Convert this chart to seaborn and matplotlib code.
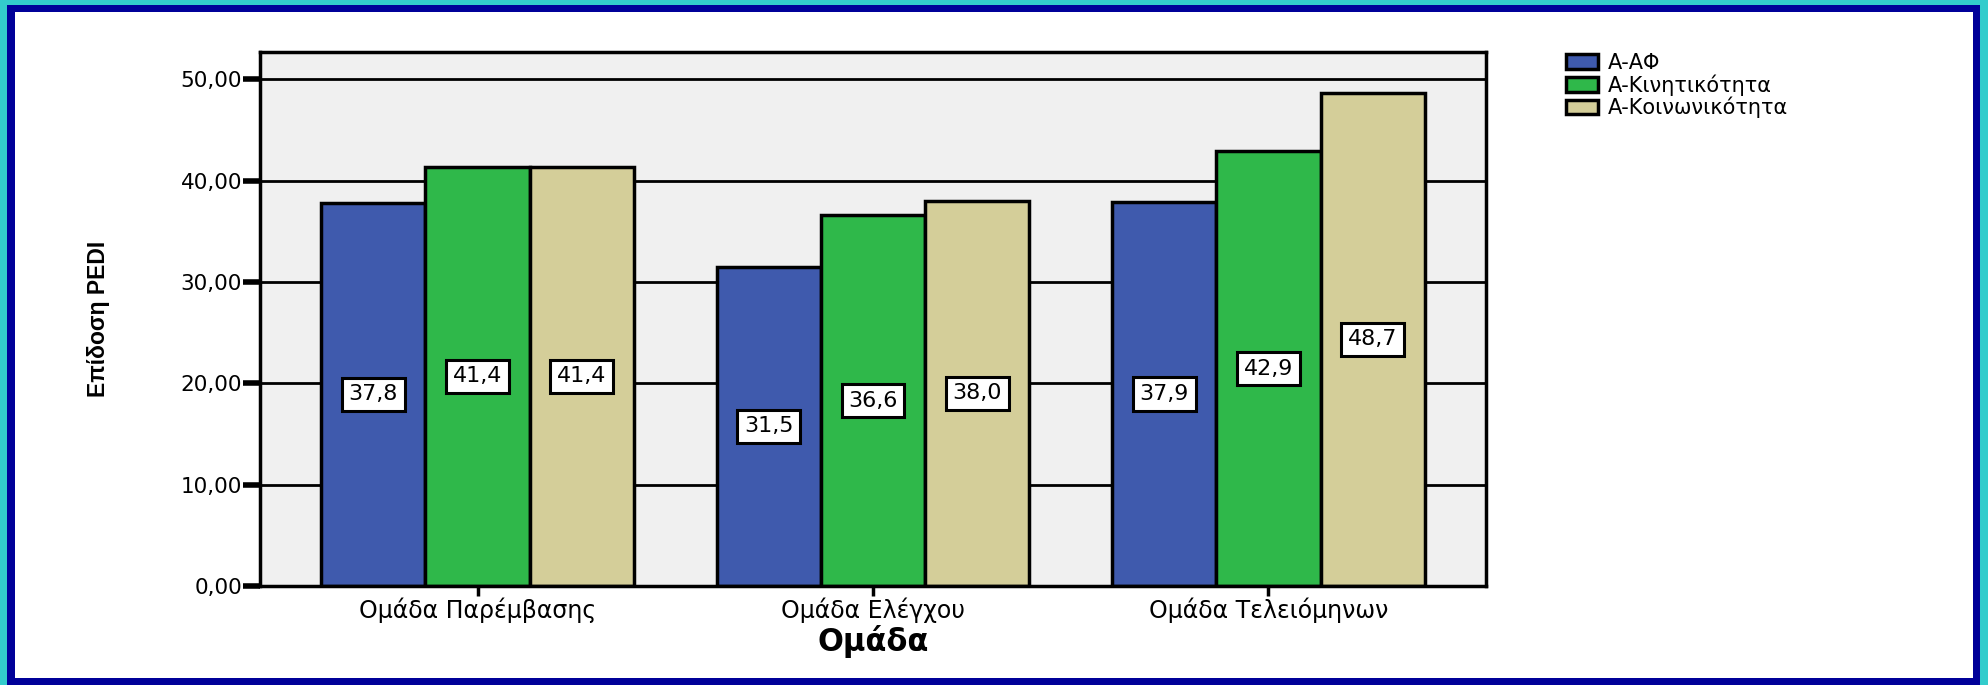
import matplotlib
matplotlib.use("Agg")
import matplotlib.pyplot as plt
from matplotlib.patches import Rectangle
from matplotlib.ticker import FuncFormatter
import pandas as pd
import seaborn as sns

# Δεδομένα του γραφήματος
groups = ["Ομάδα Παρέμβασης", "Ομάδα Ελέγχου", "Ομάδα Τελειόμηνων"]
series = ["Α-ΑΦ", "Α-Κινητικότητα", "Α-Κοινωνικότητα"]
af = [37.8, 31.5, 37.9]
kin = [41.4, 36.6, 42.9]
koin = [41.4, 38.0, 48.7]
colors = ["#3F5AAD", "#2FB84A", "#D4CE99"]
yticks = [0, 10, 20, 30, 40, 50]

rows = []
for name, vals in zip(series, [af, kin, koin]):
    for g, v in zip(groups, vals):
        rows.append({"Ομάδα": g, "Κλίμακα": name, "Επίδοση": v})
df = pd.DataFrame(rows)

sns.set_style("white")
plt.rcParams["font.family"] = ["DejaVu Sans"]
plt.rcParams["text.color"] = "black"
plt.rcParams["axes.labelcolor"] = "black"

W, H = 1988, 685
fig = plt.figure(figsize=(W / 100, H / 100), dpi=100)
fig.patch.set_facecolor("#33CCCC")
# πλαίσιο γύρω από το γράφημα
fig.add_artist(Rectangle((7 / W, 0), (1980 - 7) / W, (H - 5) / H,
                         transform=fig.transFigure, fc="#000099", ec="none", zorder=-2))
fig.add_artist(Rectangle((15 / W, 7 / H), (1973 - 15) / W, (678 - 12) / H,
                         transform=fig.transFigure, fc="white", ec="none", zorder=-1))

ax = fig.add_axes([260 / W, (H - 586) / H, (1486 - 260) / W, (586 - 52) / H])
ax.set_facecolor("#F0F0F0")

sns.barplot(data=df, x="Ομάδα", y="Επίδοση", hue="Κλίμακα", palette=colors,
            saturation=1, edgecolor="black", linewidth=2.5, width=0.79,
            errorbar=None, ax=ax)

for c in ax.containers:
    labels = [f"{b.get_height():.1f}".replace(".", ",") for b in c]
    ax.bar_label(c, labels=labels, label_type="center", fontsize=16,
                 bbox=dict(boxstyle="square,pad=0.3", fc="white", ec="black", lw=2.2))

ax.set_ylim(0, 52.7)
ax.set_xlim(-0.55, 2.55)
ax.set_yticks(yticks)
ax.yaxis.set_major_formatter(FuncFormatter(lambda v, p: f"{v:.2f}".replace(".", ",")))
ax.yaxis.grid(True, color="black", lw=2)
ax.set_axisbelow(True)
for s in ax.spines.values():
    s.set_visible(True)
    s.set_color("black")
    s.set_linewidth(2.5)

ax.tick_params(axis="y", left=True, length=12, width=4, direction="out",
               pad=1, labelsize=15.5, colors="black")
ax.tick_params(axis="x", bottom=True, length=7, width=2.5, direction="out",
               pad=1, labelsize=17, colors="black")

ax.set_xlabel("Ομάδα", fontsize=22, fontweight="bold")
ax.xaxis.set_label_coords(0.5, -0.104)
ax.xaxis.label.set_va("center")
ax.set_ylabel("Επίδοση PEDI", fontsize=16.5, fontweight="bold",
              family=["Liberation Sans Narrow", "Liberation Sans", "DejaVu Sans"])
ax.yaxis.set_label_coords(-0.132, 0.5)
ax.yaxis.label.set_va("center")

handles, labels = ax.get_legend_handles_labels()
ax.get_legend().remove()
fig.legend(handles, labels, loc="upper left",
           bbox_to_anchor=(1566 / W, (H - 53) / H), frameon=False, fontsize=15,
           handlelength=1.55, handleheight=0.7, labelspacing=0.05,
           handletextpad=0.45, borderpad=0, borderaxespad=0)

fig.savefig("out.png", dpi=100)
